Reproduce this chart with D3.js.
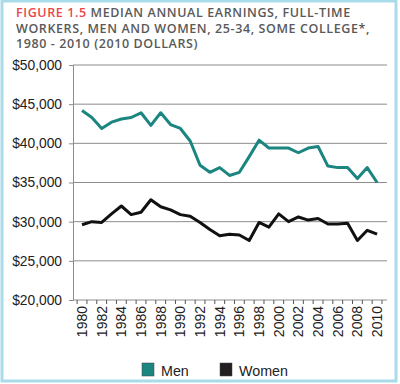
<!DOCTYPE html>
<html>
<head>
<meta charset="utf-8">
<script src="https://cdn.jsdelivr.net/npm/d3@7"></script>
<style>
  body { margin: 0; background: #fff; }
  svg { display: block; }
</style>
</head>
<body>
<svg id="chart"></svg>
<script>
// data
const years = d3.range(1980, 2011);
const men = [44200, 43300, 41900, 42700, 43100, 43300, 43900, 42300, 43900, 42400,
             41900, 40300, 37200, 36300, 36900, 35900, 36300, 38300, 40400, 39400,
             39400, 39400, 38800, 39400, 39600, 37100, 36900, 36900, 35500, 36900, 35000];
const women = [29600, 30000, 29900, 31000, 32000, 30900, 31200, 32800, 31900, 31500,
               30900, 30700, 29900, 29000, 28200, 28400, 28300, 27600, 29900, 29300,
               31000, 30000, 30600, 30200, 30400, 29700, 29700, 29800, 27600, 28900, 28400];
const yTicks = [20000, 25000, 30000, 35000, 40000, 45000, 50000];
const xLabels = years.filter(y => y % 2 === 0);
const seriesNames = ['Men', 'Women'];
const titleLines = ['MEDIAN ANNUAL EARNINGS, FULL-TIME',
                    'WORKERS, MEN AND WOMEN, 25-34, SOME COLLEGE*,',
                    '1980 - 2010 (2010 DOLLARS)'];

const width = 400, height = 384;
const colors = { Men: '#1b8580', Women: '#111111' };

const svg = d3.select('#chart')
    .attr('width', width)
    .attr('height', height);

// light blue frame
svg.append('rect')
    .attr('x', 2).attr('y', 1)
    .attr('width', 394).attr('height', 380)
    .attr('fill', '#fff')
    .attr('stroke', '#a9dbe9')
    .attr('stroke-width', 3);

// title
const title = svg.append('text')
    .attr('font-family', 'Open Sans, sans-serif')
    .attr('font-weight', 600)
    .attr('font-size', 12.5)
    .attr('letter-spacing', 0.6)
    .attr('fill', '#595959');
titleLines.forEach((line, i) => {
    const t = title.append('tspan')
        .attr('x', 16)
        .attr('y', 17 + i * 15.5);
    if (i === 0) {
        t.append('tspan').attr('fill', '#e8474c').text('FIGURE 1.5 ');
    }
    t.append('tspan').text(line);
});

// scales
const x = d3.scaleBand()
    .domain(years)
    .range([77.1, 382]);
const y = d3.scaleLinear()
    .domain([20000, 50000])
    .range([300, 65]);
const cx = d => x(d) + x.bandwidth() / 2;

// gridlines
svg.append('g')
    .selectAll('line')
    .data(yTicks.slice(1))
    .join('line')
    .attr('x1', 73).attr('x2', 387)
    .attr('y1', d => y(d)).attr('y2', d => y(d))
    .attr('stroke', '#8c8c8c')
    .attr('stroke-width', 1);

// y axis
const yAxis = svg.append('g')
    .attr('transform', 'translate(73,0)')
    .call(d3.axisLeft(y).tickValues(yTicks).tickSize(4).tickFormat(d => '$' + d3.format(',')(d)));
yAxis.select('.domain').attr('stroke', '#8c8c8c');
yAxis.selectAll('.tick line').attr('stroke', '#8c8c8c');
yAxis.selectAll('text')
    .attr('font-family', 'Liberation Sans, Arial, sans-serif')
    .attr('font-size', 13.8)
    .attr('fill', '#222')
    .attr('x', -11);

// x axis line with ticks between categories
const xAxis = svg.append('g');
xAxis.append('line')
    .attr('x1', 73).attr('x2', 387)
    .attr('y1', y(20000)).attr('y2', y(20000))
    .attr('stroke', '#8c8c8c');
xAxis.selectAll('.tk')
    .data(years.concat([2011]))
    .join('line')
    .attr('class', 'tk')
    .attr('x1', d => d === 2011 ? x(2010) + x.bandwidth() : x(d))
    .attr('x2', d => d === 2011 ? x(2010) + x.bandwidth() : x(d))
    .attr('y1', y(20000)).attr('y2', y(20000) + 4)
    .attr('stroke', '#555');
xAxis.selectAll('.lbl')
    .data(xLabels)
    .join('text')
    .attr('class', 'lbl')
    .attr('transform', d => `translate(${cx(d) + 5},306) rotate(-90)`)
    .attr('text-anchor', 'end')
    .attr('font-family', 'Liberation Sans, Arial, sans-serif')
    .attr('font-size', 14)
    .attr('fill', '#222')
    .text(d => d);

// lines
const line = d3.line()
    .x((d, i) => cx(years[i]))
    .y(d => y(d));
svg.append('path')
    .datum(men)
    .attr('d', line)
    .attr('fill', 'none')
    .attr('stroke', colors.Men)
    .attr('stroke-width', 3)
    .attr('stroke-linejoin', 'round');
svg.append('path')
    .datum(women)
    .attr('d', line)
    .attr('fill', 'none')
    .attr('stroke', colors.Women)
    .attr('stroke-width', 3)
    .attr('stroke-linejoin', 'round');

// legend
const legendX = [142, 220];
const legend = svg.append('g')
    .selectAll('g')
    .data(seriesNames)
    .join('g')
    .attr('transform', (d, i) => `translate(${legendX[i]},363)`);
legend.append('rect')
    .attr('width', 12).attr('height', 13)
    .attr('fill', d => d === 'Men' ? colors.Men : '#231f20')
    .attr('stroke', '#444')
    .attr('stroke-width', 0.5);
legend.append('text')
    .attr('x', 19).attr('y', 12.5)
    .attr('font-family', 'Liberation Sans, Arial, sans-serif')
    .attr('font-size', 14.3)
    .attr('fill', '#222')
    .text(d => d);
</script>
</body>
</html>
